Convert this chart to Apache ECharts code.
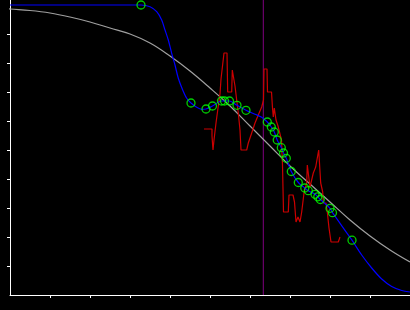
<!DOCTYPE html>
<html>
<head>
<meta charset="utf-8">
<script src="https://cdn.jsdelivr.net/npm/echarts@6/dist/echarts.min.js"></script>
<style>html,body{margin:0;padding:0;background:#000;}#c{width:410px;height:310px;}</style>
</head>
<body>
<div id="c"></div>
<script>
// Data in chart units (x: 0..400, y: 0..295)
var xTicks = [40, 80, 120, 160, 200, 240, 280, 320, 360];
var yTicks = [29, 58, 87, 116, 145, 174, 203, 232, 261];
var refX = 253.3;
var fitCurve = [[-10,287],[0,286],[20,284.5],[40,282],[60,278],[80,273],[100,267],[120,261],[140,252],[160,239],[180,224],[200,207],[220,189],[240,169],[260,149],[280,129],[300,111],[320,93],[340,75],[360,59],[380,45],[400,33]];
var measured = [[131,290],[181,192],[196,186],[202.5,189],[211.5,194],[214.5,194],[219.5,194],[227,189.7],[236,184.7],[257.3,173],[261.3,168],[264.3,163],[267.2,155],[271.3,147.3],[273.5,142],[276.3,136.7],[281.3,123.5],[288.3,112.5],[294.8,107],[298.3,104.3],[305,100.7],[307.8,98.2],[310.3,95.5],[320,86.7],[322.5,82.3],[342,54.8]];
var interpCurve = [[0,290],[131,290],[140,288.3],[146.7,283.3],[151.7,275],[155,265],[158.3,255],[161.7,241.7],[165,230],[168.3,216.7],[172.7,205],[176.7,196.7],[181,192],[186.7,187.7],[191.7,185.7],[196,186],[202.5,189],[211.5,194],[214.5,194],[219.5,194],[227,189.7],[236,184.7],[245,180.7],[251.7,177.7],[257.3,173],[261.3,168],[264.3,163],[267.2,155],[271.3,147.3],[273.5,142],[276.3,136.7],[281.3,123.5],[288.3,112.5],[294.8,107],[298.3,104.3],[305,100.7],[307.8,98.2],[310.3,95.5],[320,86.7],[322.5,82.3],[342,54.8],[351.7,40],[361.7,27],[371.7,16],[381.7,8.5],[391.7,4.5],[400,3]];
var raw = [[194,166],[202,166],[202,159],[203,145],[204,155],[206,172],[208,187],[210,201],[211,216],[212.3,218],[214,242],[217,242],[217.7,203],[221.7,203],[222.3,225],[224.3,225],[225,209],[226.7,195],[228.3,182],[230,165],[231,145],[236.7,145],[238.3,152],[241.7,162],[245,172],[248.3,180],[251.7,188],[253.5,195],[254,226],[257,226],[257.5,203],[261.5,203],[262.5,187],[263.3,178],[264.3,187],[266,175],[268,169],[270,167],[271.5,155],[272.5,130],[273.5,83],[278.3,83],[279,100],[283,100],[284.5,93],[286,73],[288,78],[290,73],[291.7,83],[293.3,83],[294,102],[296.7,112],[297.3,130],[299.3,130],[300,108],[302,108],[303.3,122],[305.7,128],[307.7,128],[308.7,145],[310.3,145],[310.7,112],[312.7,103],[313.3,92],[316,92],[317.3,83],[319,67],[321,53],[328.3,53],[330,58]];

var chart = echarts.init(document.getElementById('c'));
var axisLine = {show: true, lineStyle: {color: '#ffffff', width: 1}};
chart.setOption({
  backgroundColor: '#000000',
  animation: false,
  grid: {left: 10, right: 0, top: 0, bottom: 15},
  xAxis: {type: 'value', min: 0, max: 400, interval: 40,
    axisLine: axisLine, splitLine: {show: false}, axisLabel: {show: false},
    axisTick: {show: true, length: 3, inside: false, customValues: xTicks, lineStyle: {color: '#ffffff'}}},
  yAxis: {type: 'value', min: 0, max: 295, interval: 29,
    axisLine: axisLine, splitLine: {show: false}, axisLabel: {show: false},
    axisTick: {show: true, length: 3, inside: false, customValues: yTicks, lineStyle: {color: '#ffffff'}}},
  series: [
    {type: 'line', data: [[refX, 0], [refX, 295]], symbol: 'none', lineStyle: {color: '#800080', width: 1}, z: 1},
    {type: 'line', data: fitCurve, symbol: 'none', smooth: 0.4, clip: false, lineStyle: {color: '#a0a0a0', width: 1.2}, z: 2},
    {type: 'line', data: raw, symbol: 'none', lineStyle: {color: '#cc0000', width: 1.2}, z: 3},
    {type: 'line', data: interpCurve, symbol: 'none', smooth: 0.3, lineStyle: {color: '#0000ff', width: 1.2}, z: 4},
    {type: 'scatter', data: measured, symbol: 'circle', symbolSize: 8,
      itemStyle: {color: 'transparent', borderColor: '#00ff00', borderWidth: 1.3}, z: 5}
  ]
});
</script>
</body>
</html>
